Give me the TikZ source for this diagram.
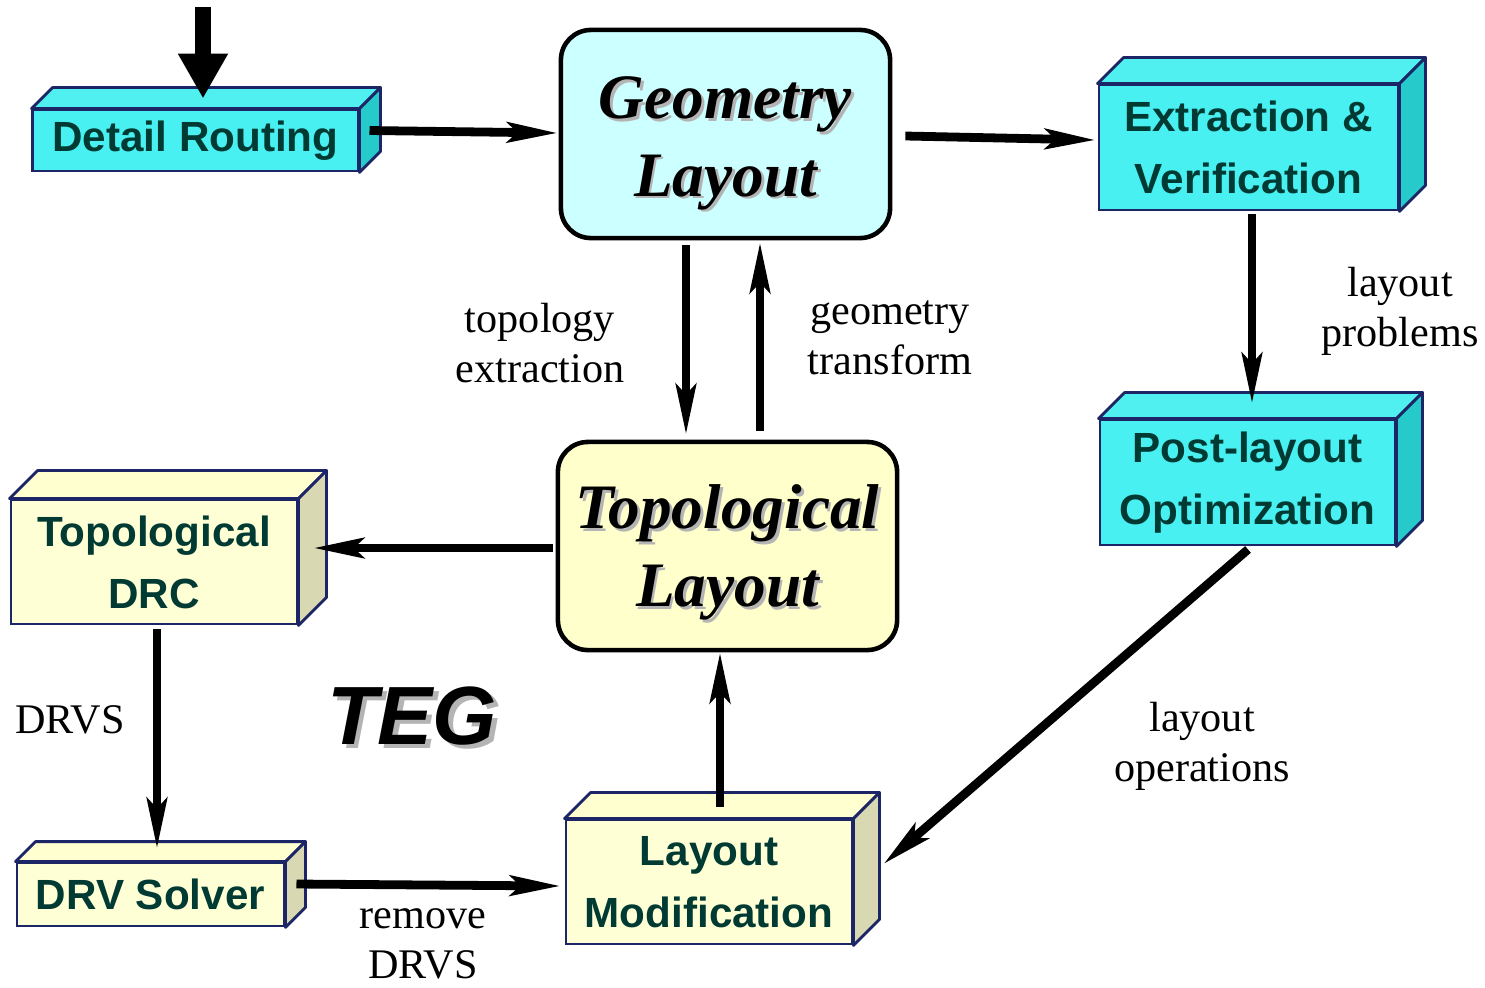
\documentclass[tikz,border=0pt]{standalone}
\usepackage{fontspec}
\setmainfont{Liberation Serif}
\setsansfont{Liberation Sans}
\usetikzlibrary{arrows.meta}
\definecolor{boxline}{HTML}{1C2566}
\definecolor{labelgreen}{HTML}{003A33}
\definecolor{faceCy}{HTML}{48F0F2}
\definecolor{topCy}{HTML}{50F0F0}
\definecolor{sideCy}{HTML}{26CACA}
\definecolor{faceYe}{HTML}{FFFFD6}
\definecolor{topYe}{HTML}{FFFFD0}
\definecolor{sideYe}{HTML}{D8D8B2}
\definecolor{geofill}{HTML}{CCFFFF}
\definecolor{topofill}{HTML}{FFFFCC}
\definecolor{shadowgray}{HTML}{B4B4B4}
\newcommand{\withshadow}[2][0.8pt]{\rlap{\kern#1\raisebox{-#1}{\textcolor{shadowgray}{#2}}}#2}

\begin{document}
\begin{tikzpicture}[x=0.01cm, y=-0.01cm,
  cube/.style={draw=boxline, line width=0.8pt, inner sep=0pt, align=center,
    text=labelgreen, font=\sffamily\bfseries\fontsize{12}{17.6}\selectfont},
  cyancube/.style={cube, fill=faceCy},
  yelcube/.style={cube, fill=faceYe},
  face/.style={draw=boxline, line width=0.8pt, line join=round},
  roundbox/.style={draw=black, line width=1.3pt, rounded corners=0.3cm, inner sep=0pt,
    align=center, font=\bfseries\itshape\fontsize{18}{22}\selectfont},
  note/.style={align=center, font=\fontsize{12}{14.2}\selectfont},
  arr/.style={-{Stealth[length=5mm,width=2mm,inset=1mm]}, line width=2.5pt},
  bigarr/.style={-{Triangle[length=4.5mm,width=4.7mm]}, line width=4.5pt}]
  \useasboundingbox (0,0) rectangle (1485,987);
  % main layouts
  \node[roundbox, fill=geofill, minimum width=3.29cm, minimum height=2.08cm] (geo) at (725.5,134)
    {\rule{0pt}{18pt}\withshadow{Geometry}\\\withshadow{Layout}};
  \node[roundbox, fill=topofill, minimum width=3.39cm, minimum height=2.08cm] (topo) at (727.5,546)
    {\rule{0pt}{17pt}\withshadow{Topological}\\\withshadow{Layout}};
  % tool boxes
  \node[cyancube, minimum width=3.25cm, minimum height=0.61cm] (route) at (195.5,140.5) {Detail Routing};
  \node[cyancube, minimum width=2.99cm, minimum height=1.25cm] (extract) at (1248.5,147.5) {Extraction \&\\Verification};
  \node[cyancube, minimum width=2.95cm, minimum height=1.25cm] (postopt) at (1247.5,482.5) {Post-layout\\Optimization};
  \node[yelcube, minimum width=2.86cm, minimum height=1.24cm] (drc) at (154,562) {Topological\\DRC};
  \node[yelcube, minimum width=2.67cm, minimum height=0.63cm] (solver) at (150.5,894.5) {DRV Solver};
  \node[yelcube, minimum width=2.86cm, minimum height=1.24cm] (laymod) at (709,882) {Layout\\Modification};
  % top and side faces
  \foreach \n/\d/\c in {route/21/Cy, extract/26/Cy, postopt/26/Cy, drc/28/Ye, solver/20/Ye, laymod/26/Ye}{
    \filldraw[face, fill=top\c] (\n.north west) -- ++(\d,-\d) -- ([shift={(\d,-\d)}]\n.north east) -- (\n.north east) -- cycle;
    \filldraw[face, fill=side\c] (\n.north east) -- ([shift={(\d,-\d)}]\n.north east) -- ([shift={(\d,-\d)}]\n.south east) -- (\n.south east) -- cycle;
  }
  % labels
  \node[note] (lbltopo) at (540,343) {topology\\extraction};
  \node[note] (lblgeo) at (890,338) {geometry\\transform};
  \node[note] (lblprob) at (1400,311) {layout\\problems};
  \node[note] (lblops) at (1202,746) {layout\\operations};
  \node[note] (lbldrvs) at (70,720) {DRVS};
  \node[note] (lblremove) at (423,944) {remove\\DRVS};
  \node[font=\sffamily\bfseries\itshape\fontsize{23.5}{28}\selectfont] (teg) at (412,718) {\withshadow[1.3pt]{TEG}};
  % connectors
  \coordinate (feed) at (203,7);
  \draw[bigarr] (feed) -- ([shift={(7.5,-10)}]route.north);
  \draw[arr] ([shift={(10,-10)}]route.east) -- ([shift={(-1,-1)}]geo.west);
  \draw[arr] ([shift={(13,2)}]geo.east) -- ([shift={(-2,-7.5)}]extract.west);
  \draw[arr] ([shift={(3.5,3)}]extract.south) -- ([shift={(4.5,-15)}]postopt.north);
  \draw[arr] ([shift={(-39.5,5)}]geo.south) -- ([shift={(-41.5,-5)}]topo.north);
  \draw[arr] ([shift={(32.5,-9)}]topo.north) -- ([shift={(34.5,2)}]geo.south);
  \draw[arr] ([shift={(-3,2)}]topo.west) -- ([shift={(15,-14)}]drc.east);
  \draw[arr] ([shift={(3,4)}]drc.south) -- ([shift={(6.5,-13)}]solver.north);
  \draw[arr] ([shift={(11,-10.5)}]solver.east) -- ([shift={(-4,4)}]laymod.west);
  \draw[arr] ([shift={(11,-12)}]laymod.north) -- ([shift={(-7.5,0)}]topo.south);
  \draw[arr] ([shift={(0.5,3)}]postopt.south) -- ([shift={(30,-18)}]laymod.east);
\end{tikzpicture}
\end{document}
